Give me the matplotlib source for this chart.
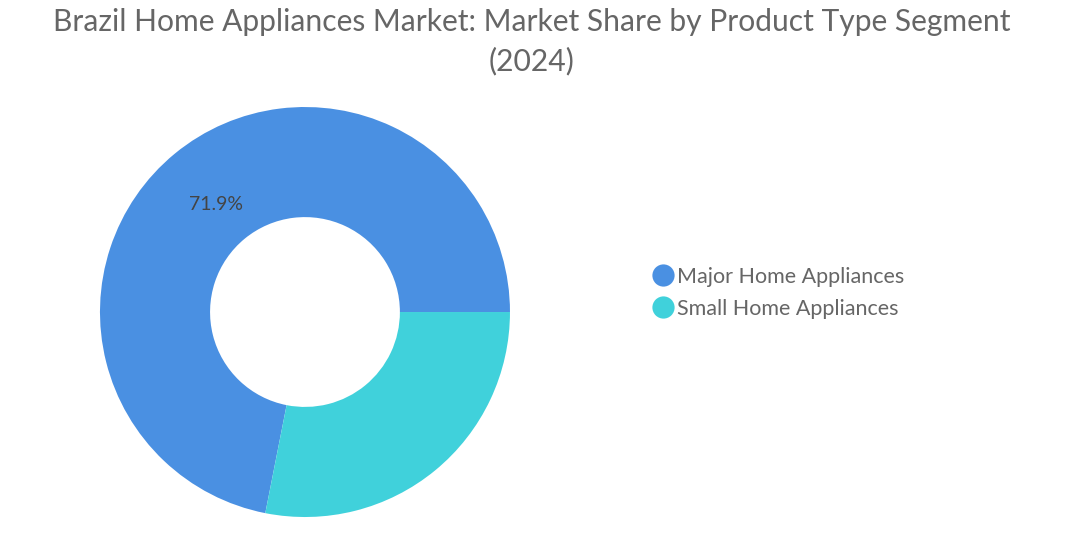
import matplotlib.pyplot as plt
from matplotlib.lines import Line2D

plt.rcParams['font.family'] = ['Lato', 'DejaVu Sans']

segments = ['Major Home Appliances', 'Small Home Appliances']
shares = [71.9, 28.1]
colors = ['#4A90E2', '#40D1DB']
title = 'Brazil Home Appliances Market: Market Share by Product Type Segment\n(2024)'

fig = plt.figure(figsize=(10.83, 5.34), dpi=100)
ax = fig.add_axes([0.0923, 0.0318, 0.3786, 0.7678])

wedges, texts, autotexts = ax.pie(
    shares, colors=colors, startangle=0, counterclock=True,
    wedgeprops=dict(width=0.537, edgecolor='none'),
    autopct=lambda p: f'{p:.1f}%' if p > 50 else '',
    pctdistance=0.68, textprops=dict(color='#444444', fontsize=14))
ax.set_xlim(-1, 1)
ax.set_ylim(-1, 1)
ax.set_aspect('equal')

fig.suptitle(title, fontsize=21.6, color='#666666', x=0.491, y=0.985, linespacing=1.45)

handles = [Line2D([], [], marker='o', linestyle='none', markersize=16,
                  markerfacecolor=c, markeredgecolor='none') for c in colors]
fig.legend(handles, segments, loc='center left', bbox_to_anchor=(0.582, 0.452),
           frameon=False, fontsize=15.5, labelcolor='#666666',
           handletextpad=0.05, labelspacing=0.55, handlelength=1.2)

plt.savefig('out.png')
plt.close()
